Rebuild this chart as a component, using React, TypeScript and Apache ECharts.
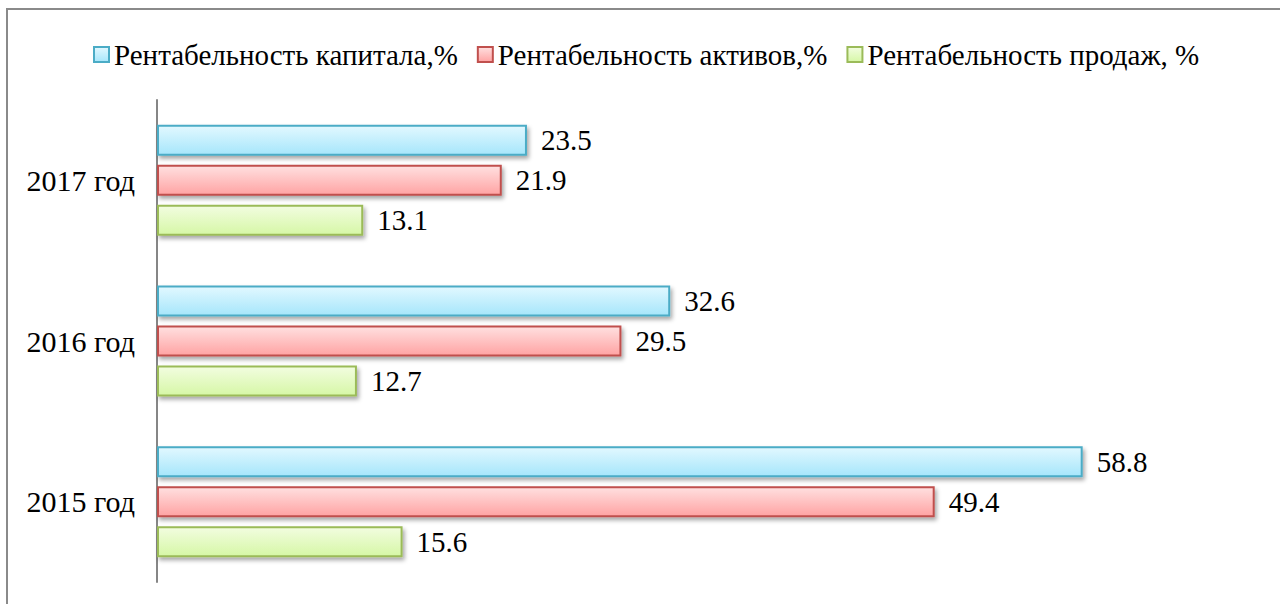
import React, { useEffect, useRef } from "react";
import * as echarts from "echarts";

const categories = ["2015 год", "2016 год", "2017 год"];
const seriesNames = [
  "Рентабельность капитала,%",
  "Рентабельность активов,%",
  "Рентабельность продаж, %",
];
const capitalValues = [58.8, 32.6, 23.5];
const assetsValues = [49.4, 29.5, 21.9];
const salesValues = [15.6, 12.7, 13.1];

const FONT = "Liberation Serif";

function grad(top: string, bottom: string) {
  return new echarts.graphic.LinearGradient(0, 0, 0, 1, [
    { offset: 0, color: top },
    { offset: 1, color: bottom },
  ]);
}

export default function App() {
  const ref = useRef<HTMLDivElement>(null);
  useEffect(() => {
    if (!ref.current) return;
    const chart = echarts.init(ref.current, undefined, { renderer: "svg" });
    const mk = (name: string, data: number[], top: string, bottom: string, border: string) => ({
      name,
      type: "bar",
      data,
      barWidth: 31,
      barGap: "29%",
      itemStyle: {
        color: grad(top, bottom),
        borderColor: border,
        borderWidth: 2,
        shadowColor: "rgba(0,0,0,0.35)",
        shadowBlur: 4,
        shadowOffsetX: 2,
        shadowOffsetY: 3,
      },
      label: {
        show: true,
        position: "right",
        distance: 14,
        color: "#000",
        fontFamily: FONT,
        fontSize: 29,
      },
    });
    chart.setOption({
      animation: false,
      backgroundColor: "#fff",
      graphic: [
        {
          type: "rect",
          shape: { x: 7, y: 9, width: 1300, height: 700 },
          style: { fill: "none", stroke: "#8a8a8a", lineWidth: 2 },
          silent: true,
        },
      ],
      legend: {
        top: 35,
        left: 88,
        icon: "rect",
        itemWidth: 15,
        itemHeight: 15,
        itemGap: 19,
        data: seriesNames,
        textStyle: { fontFamily: FONT, fontSize: 29, color: "#000" },
      },
      grid: { left: 157, right: 21, top: 100, bottom: 22 },
      xAxis: {
        type: "value",
        min: 0,
        max: 70,
        show: false,
      },
      yAxis: {
        type: "category",
        data: categories,
        axisLine: { show: true, lineStyle: { color: "#868686", width: 2 } },
        axisTick: { show: false },
        axisLabel: { fontFamily: FONT, fontSize: 30, color: "#000", margin: 22 },
      },
      series: [
        mk(seriesNames[0], capitalValues, "#e2f8ff", "#a6e6fb", "#4bacc6"),
        mk(seriesNames[1], assetsValues, "#ffe0e0", "#ffa3a3", "#c0504d"),
        mk(seriesNames[2], salesValues, "#f2fde0", "#d6f7a6", "#9bbb59"),
      ],
    });
    return () => chart.dispose();
  }, []);
  return (
    <div
      ref={ref}
      style={{ position: "absolute", left: 0, top: 0, width: 1280, height: 604 }}
    />
  );
}
